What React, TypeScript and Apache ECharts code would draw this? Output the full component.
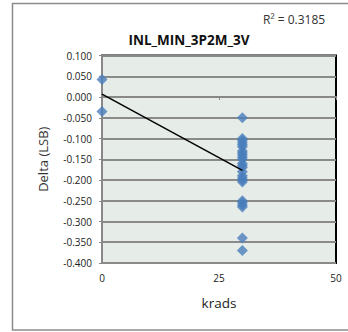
import React, { useEffect, useRef } from "react";
import * as echarts from "echarts";

const xAt0 = [0, 0];
const yAt0 = [0.042, -0.035];
const yAt30 = [-0.05, -0.1, -0.105, -0.11, -0.115, -0.12, -0.13, -0.135, -0.14, -0.145, -0.15, -0.16, -0.165, -0.17, -0.18, -0.19, -0.195, -0.2, -0.205, -0.25, -0.255, -0.26, -0.265, -0.34, -0.37];
const trendX = [0, 30];
const trendY = [0.007, -0.177];
const titleText = "INL_MIN_3P2M_3V";
const r2Text = "R² = 0.3185";
const xTicks = [0, 25, 50];

export default function App() {
  const ref = useRef<HTMLDivElement>(null);
  useEffect(() => {
    const chart = echarts.init(ref.current!, null, { renderer: "svg" });
    const pts: number[][] = [];
    xAt0.forEach((x, i) => pts.push([x, yAt0[i]]));
    yAt30.forEach((y) => pts.push([30, y]));
    const font = "Open Sans, Liberation Sans, Arial, sans-serif";
    chart.setOption({
      animation: false,
      backgroundColor: "#fff",
      textStyle: { fontFamily: font },
      title: [
        { text: titleText, left: 184, top: 28, textAlign: "center", textStyle: { fontSize: 13.5, fontWeight: "bold", color: "#111", fontFamily: font } },
        { text: r2Text, left: 258, top: 8, textStyle: { fontSize: 12, fontWeight: "normal", color: "#333", fontFamily: font } },
      ],
      graphic: [
        { type: "rect", shape: { x: 12.5, y: 3.5, width: 345, height: 326.5 }, style: { fill: "none", stroke: "#8c8c8c", lineWidth: 1.5 }, z: -1 },
      ],
      grid: { left: 102, right: 12, top: 55.5, bottom: 69, show: true, backgroundColor: "#e6ece8", borderColor: "#000", borderWidth: 2 },
      xAxis: {
        type: "value", min: 0, max: 50, interval: 25,
        name: "krads", nameLocation: "middle", nameGap: 33,
        nameTextStyle: { fontSize: 13.5, color: "#222" },
        axisLine: { show: true, lineStyle: { color: "#888", width: 2 } },
        axisTick: { show: true, inside: false, length: 3, lineStyle: { color: "#888" } },
        axisLabel: { fontSize: 10, color: "#222", margin: 10, formatter: (v: number) => (xTicks.includes(v) ? String(v) : "") },
        splitLine: { show: false },
      },
      yAxis: {
        type: "value", min: -0.4, max: 0.1, interval: 0.05,
        name: "Delta (LSB)", nameLocation: "middle", nameGap: 53,
        nameTextStyle: { fontSize: 13, color: "#333" },
        axisLine: { show: true, lineStyle: { color: "#888", width: 2 } },
        axisTick: { show: true, length: 3, lineStyle: { color: "#888" } },
        axisLabel: { fontSize: 10, color: "#222", margin: 10, formatter: (v: number) => v.toFixed(3) },
        splitLine: { show: true, lineStyle: { color: "#8a8a8a", width: 2 } },
      },
      series: [
        { type: "scatter", data: pts, symbol: "diamond", symbolSize: 11, itemStyle: { color: "#4a7ebb" }, z: 3 },
        { type: "line", data: trendX.map((x, i) => [x, trendY[i]]), symbol: "none", lineStyle: { color: "#000", width: 1.5 }, z: 4 },
      ],
    });
    return () => chart.dispose();
  }, []);
  return <div ref={ref} style={{ position: "absolute", left: 0, top: 0, width: 348, height: 332 }} />;
}
